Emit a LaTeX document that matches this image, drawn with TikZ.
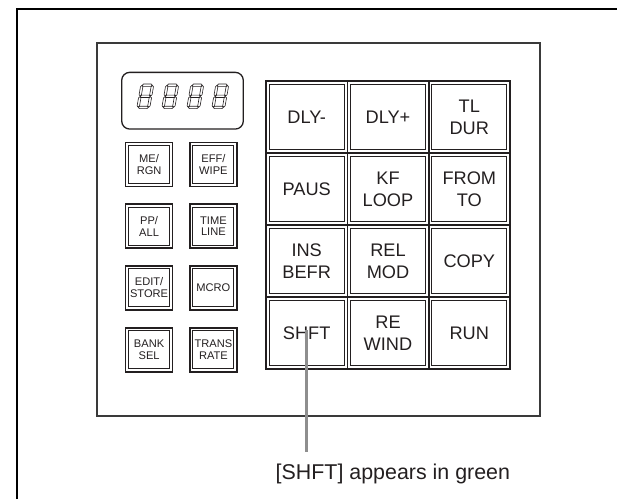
\documentclass[tikz,border=0pt]{standalone}
\usepackage{fontspec}
\setmainfont{Liberation Sans}
\usepackage{tikz}

\definecolor{keyline}{HTML}{231F20}
\definecolor{panelline}{HTML}{3A3A3A}
\definecolor{leadergray}{HTML}{8E8E8E}

\begin{document}
\begin{tikzpicture}[x=1pt, y=-1pt,
    every node/.style={text=keyline},
    bigkey/.style={draw=keyline, line width=1.7pt, minimum width=81.3pt, minimum height=72pt,
      inner sep=0pt, align=center, font=\fontsize{18.2}{21.7}\selectfont,
      path picture={\draw[keyline, line width=0.9pt]
        ([shift={(3.2pt,-3.2pt)}]path picture bounding box.north west) rectangle
        ([shift={(-3.2pt,3.2pt)}]path picture bounding box.south east);}},
    smallkey/.style={draw=keyline, line width=1.7pt, minimum width=47pt, minimum height=44pt,
      inner sep=0pt, align=center, font=\fontsize{11.1}{11.7}\selectfont,
      path picture={\draw[keyline, line width=0.9pt]
        ([shift={(3pt,-3pt)}]path picture bounding box.north west) rectangle
        ([shift={(-3pt,3pt)}]path picture bounding box.south east);}},
    segment/.style={draw=keyline, line width=0.6pt, line join=miter}]

    \useasboundingbox (0,0) rectangle (617,499);

    % frame and panel
    \draw[line width=2pt] (17,499) -- (17,9) -- (617,9);
    \draw[panelline, line width=1.5pt] (97,43) rectangle (540,416);

    % display
    \node[draw=keyline, line width=1.3pt, rounded corners=8pt, minimum width=121.6pt, minimum height=56.7pt] (display) at (182.5,100.7) {};
    \foreach \dx in {145.3,170.3,195.3,220.3} {
      \begin{scope}[shift={(\dx,96.3)}, xslant=0.175]
        \foreach \yc in {-11.1,0,11.1}
          \draw[segment] (-5,\yc) -- (-3.8,\yc-1.2) -- (3.8,\yc-1.2) -- (5,\yc) -- (3.8,\yc+1.2) -- (-3.8,\yc+1.2) -- cycle;
        \foreach \xc in {-5.3,5.3}
          \foreach \ya/\yb in {-10.8/-0.4, 0.4/10.8}
            \draw[segment] (\xc,\ya) -- (\xc+1.2,\ya+1.2) -- (\xc+1.2,\yb-1.2) -- (\xc,\yb) -- (\xc-1.2,\yb-1.2) -- (\xc-1.2,\ya+1.2) -- cycle;
      \end{scope}
    }

    % small keys
    \node[smallkey] (mergn) at (149.1,164.5) {ME/\\RGN};
    \node[smallkey] (effwipe) at (213.4,164.5) {EFF/\\WIPE};
    \node[smallkey] (ppall) at (149.1,226.3) {PP/\\ALL};
    \node[smallkey] (timeline) at (213.4,226.3) {TIME\\LINE};
    \node[smallkey] (editstore) at (149.1,287.8) {EDIT/\\STORE};
    \node[smallkey] (mcro) at (213.4,287.8) {MCRO};
    \node[smallkey] (banksel) at (149.1,349.7) {BANK\\SEL};
    \node[smallkey] (transrate) at (213.4,349.7) {TRANS\\RATE};

    % big keys
    \node[bigkey] (dlyminus) at (306.7,117) {DLY-};
    \node[bigkey] (dlyplus) at (388,117) {DLY+};
    \node[bigkey] (tldur) at (469.3,117) {TL\\DUR};
    \node[bigkey] (paus) at (306.7,189) {PAUS};
    \node[bigkey] (kfloop) at (388,189) {KF\\LOOP};
    \node[bigkey] (fromto) at (469.3,189) {FROM\\TO};
    \node[bigkey] (insbefr) at (306.7,261) {INS\\BEFR};
    \node[bigkey] (relmod) at (388,261) {REL\\MOD};
    \node[bigkey] (copy) at (469.3,261) {COPY};
    \node[bigkey] (shft) at (306.7,333) {SHFT};
    \node[bigkey] (rewind) at (388,333) {RE\\WIND};
    \node[bigkey] (run) at (469.3,333) {RUN};

    % callout
    \node[anchor=base west, inner sep=0pt, font=\fontsize{21.4}{25}\selectfont] (caption) at (275.5,479) {[SHFT] appears in green};
    \coordinate (tip) at (306.7,330);
    \draw[leadergray, line width=2.8pt, shorten >=11pt] (tip) -- (tip |- caption.north);

\end{tikzpicture}
\end{document}
